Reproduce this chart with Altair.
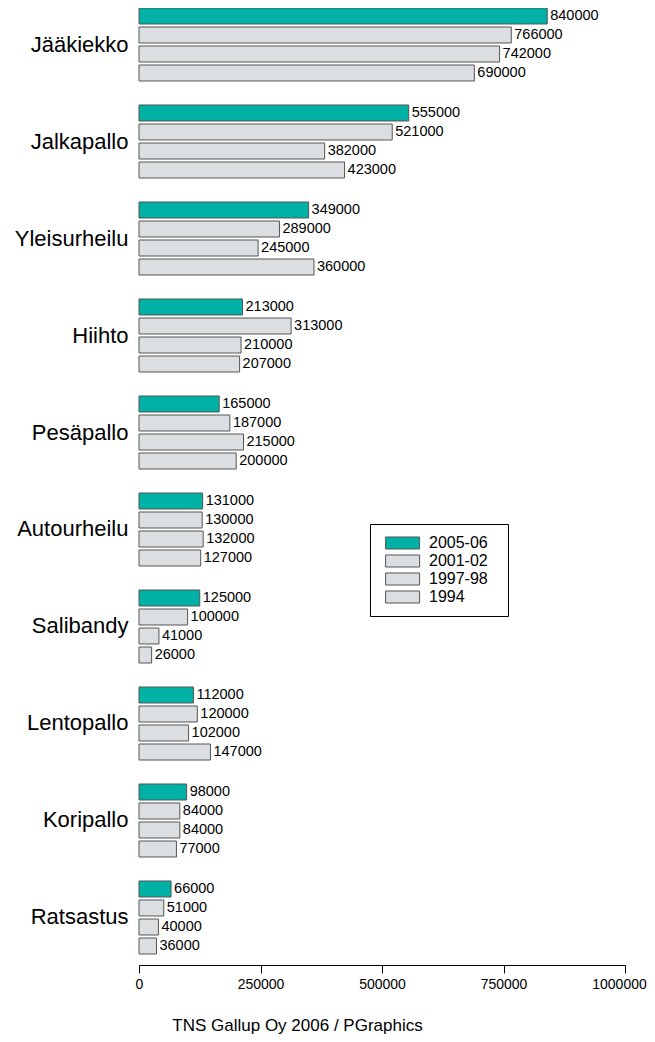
import altair as alt
import pandas as pd

sports = ["Jääkiekko", "Jalkapallo", "Yleisurheilu", "Hiihto", "Pesäpallo",
          "Autourheilu", "Salibandy", "Lentopallo", "Koripallo", "Ratsastus"]
series = ["2005-06", "2001-02", "1997-98", "1994"]
v2005 = [840000, 555000, 349000, 213000, 165000, 131000, 125000, 112000, 98000, 66000]
v2001 = [766000, 521000, 289000, 313000, 187000, 130000, 100000, 120000, 84000, 51000]
v1997 = [742000, 382000, 245000, 210000, 215000, 132000, 41000, 102000, 84000, 40000]
v1994 = [690000, 423000, 360000, 207000, 200000, 127000, 26000, 147000, 77000, 36000]
x_ticks = [0, 250000, 500000, 750000, 1000000]
source_text = "TNS Gallup Oy 2006 / PGraphics"

rows = []
for i, s in enumerate(sports):
    for ser, vals in zip(series, [v2005, v2001, v1997, v1994]):
        rows.append({"laji": s, "kausi": ser, "arvo": vals[i]})
df = pd.DataFrame(rows)

FONT = "Liberation Sans"

y_enc = alt.Y("laji:N", sort=sports,
              scale=alt.Scale(paddingInner=0.2474, paddingOuter=0),
              axis=alt.Axis(title=None, domain=False, ticks=False, labelFontSize=22,
                            labelFont=FONT, labelColor="black", labelPadding=11,
                            labelLimit=300))
yoff_enc = alt.YOffset("kausi:N", sort=series,
                       scale=alt.Scale(paddingInner=0.158, paddingOuter=0))
x_enc = alt.X("arvo:Q", scale=alt.Scale(domain=[0, 1000000], nice=False),
              axis=alt.Axis(values=x_ticks, format="d", grid=False, offset=11,
                            domainColor="black", tickColor="black", tickSize=8,
                            labelFont=FONT, labelFontSize=14, labelColor="black",
                            labelPadding=4, labelFlush=False,
                            labelOffset={"expr": "datum.value == 1000000 ? -6 : 0"},
                            title=source_text, titleFont=FONT, titleFontSize=17,
                            titleFontWeight="normal", titleColor="black",
                            titleX=158, titleY=65, titleAlign="center",
                            titleBaseline="alphabetic"))

bars = alt.Chart(df).mark_bar(stroke="#555", strokeWidth=1, cornerRadius=0).encode(
    x=x_enc,
    y=y_enc,
    yOffset=yoff_enc,
    fill=alt.Fill("kausi:N", sort=series,
                  scale=alt.Scale(domain=series,
                                  range=["#00b2a6", "#dcdfe2", "#dcdfe2", "#dcdfe2"]),
                  legend=alt.Legend(title="M", titleOrient="right", titleOpacity=0,
                                    titleFontSize=12, titlePadding=0,
                                    orient="none", legendX=231, legendY=516,
                                    symbolType="M-0.4,-0.706L3.6,-0.706L3.6,0.706L-0.4,0.706Z",
                                    symbolSize=289, symbolStrokeColor="#555",
                                    symbolStrokeWidth=1, symbolOpacity=1,
                                    labelFont=FONT, labelFontSize=16, labelColor="black",
                                    labelOffset=31, rowPadding=0, padding=10,
                                    strokeColor="black", fillColor="white")),
)

labels = alt.Chart(df).mark_text(align="left", baseline="middle", dx=3,
                                 font=FONT, fontSize=14.5, color="black").encode(
    x="arvo:Q",
    y=alt.Y("laji:N", sort=sports),
    yOffset=alt.YOffset("kausi:N", sort=series),
    text=alt.Text("arvo:Q", format="d"),
)

chart = alt.layer(bars, labels).properties(
    width=486, height=946,
    padding={"left": 131, "top": 0, "right": 22, "bottom": 80},
    autosize=alt.AutoSizeParams(type="none"),
).configure(font=FONT).configure_view(stroke=None)

chart.save("out.html", embed_options={"renderer": "svg", "actions": False})
